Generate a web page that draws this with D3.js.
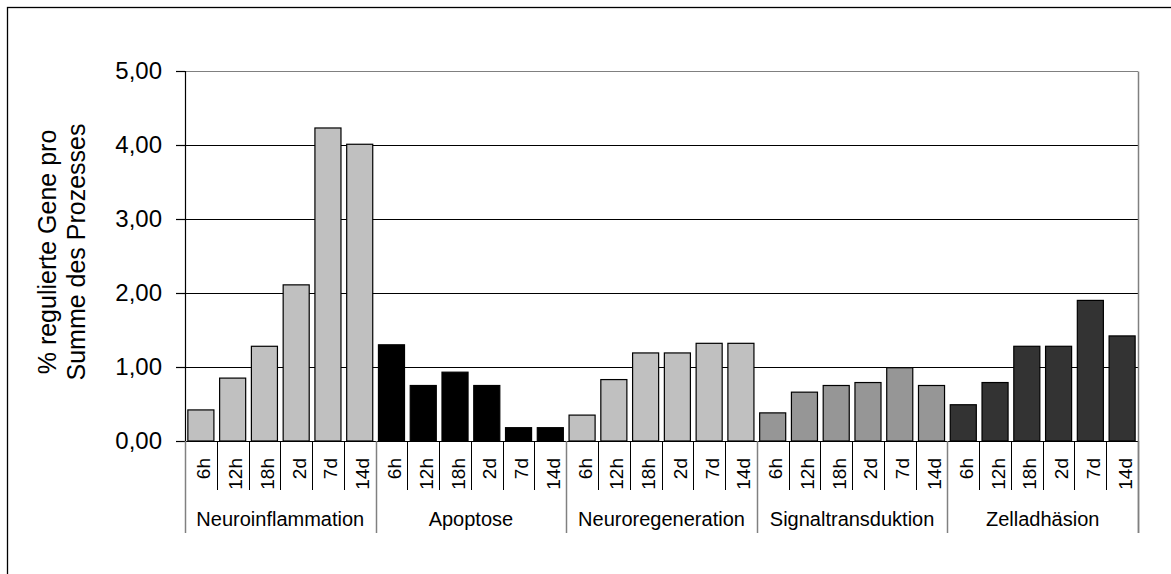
<!DOCTYPE html>
<html>
<head>
<meta charset="utf-8">
<script src="https://cdn.jsdelivr.net/npm/d3@7"></script>
<style>
  body { margin: 0; background: #fff; }
  text { font-family: "Liberation Sans", Arial, sans-serif; fill: #000; }
</style>
</head>
<body>
<svg id="chart" width="1171" height="574"></svg>
<script>
const groups = ["Neuroinflammation", "Apoptose", "Neuroregeneration", "Signaltransduktion", "Zelladhäsion"];
const times = ["6h", "12h", "18h", "2d", "7d", "14d"];

const neuroinflammation = [0.42, 0.85, 1.28, 2.11, 4.23, 4.01];
const apoptose = [1.30, 0.75, 0.93, 0.75, 0.18, 0.18];
const neuroregeneration = [0.35, 0.83, 1.19, 1.19, 1.32, 1.32];
const signaltransduktion = [0.38, 0.66, 0.75, 0.79, 0.99, 0.75];
const zelladhaesion = [0.49, 0.79, 1.28, 1.28, 1.90, 1.42];

const groupColors = ["#c0c0c0", "#000000", "#c0c0c0", "#969696", "#333333"];
const yTicks = [0, 1, 2, 3, 4, 5];

const series = [neuroinflammation, apoptose, neuroregeneration, signaltransduktion, zelladhaesion];

const data = [];
groups.forEach((g, gi) => {
  times.forEach((t, ti) => {
    data.push({ key: g + "|" + t, group: g, gi: gi, time: t, value: series[gi][ti] });
  });
});

const svg = d3.select("#chart"),
  margin = { top: 71, right: 33, bottom: 133, left: 185 },
  width = +svg.attr("width") - margin.left - margin.right,
  height = +svg.attr("height") - margin.top - margin.bottom;

// outer chart border (runs off the right and bottom of the picture)
svg.append("rect")
  .attr("x", 7.5).attr("y", 7.5)
  .attr("width", 1300).attr("height", 700)
  .attr("fill", "none").attr("stroke", "#000").attr("stroke-width", 1.3);

const g = svg.append("g")
  .attr("transform", `translate(${margin.left},${margin.top})`);

const x = d3.scaleBand()
  .domain(data.map(d => d.key))
  .range([0, width])
  .paddingInner(0.18)
  .paddingOuter(0.09);

const y = d3.scaleLinear()
  .domain([0, 5])
  .range([height, 0]);

// gridlines
g.append("g")
  .attr("class", "grid")
  .selectAll("line")
  .data(yTicks.filter(d => d > 0))
  .join("line")
  .attr("x1", 0).attr("x2", width)
  .attr("y1", d => Math.round(y(d)) + 0.5).attr("y2", d => Math.round(y(d)) + 0.5)
  .attr("stroke", d => d === 5 ? "#808080" : "#000")
  .attr("stroke-width", 1.2);

// right border of plot area
g.append("line")
  .attr("x1", width + 0.5).attr("x2", width + 0.5)
  .attr("y1", Math.round(y(5)) + 0.5).attr("y2", height + 92)
  .attr("stroke", "#808080").attr("stroke-width", 1.5);

// bars
g.append("g")
  .selectAll("rect")
  .data(data)
  .join("rect")
  .attr("x", d => x(d.key))
  .attr("y", d => y(d.value))
  .attr("width", x.bandwidth())
  .attr("height", d => y(0) - y(d.value))
  .attr("fill", d => groupColors[d.gi])
  .attr("stroke", "#000")
  .attr("stroke-width", 1.2);

// y axis
const yAxis = g.append("g")
  .call(d3.axisLeft(y)
    .tickValues(yTicks)
    .tickSize(9)
    .tickPadding(14)
    .tickFormat(d => d3.format(".2f")(d).replace(".", ",")));
yAxis.select(".domain").attr("stroke", "#000").attr("stroke-width", 1.2);
yAxis.selectAll(".tick line").attr("stroke", "#000").attr("stroke-width", 1.2);
yAxis.selectAll("text")
  .attr("font-size", 24)
  .attr("font-family", "Liberation Sans, Arial, sans-serif");

// category axis baseline
g.append("line")
  .attr("x1", -9).attr("x2", width)
  .attr("y1", height + 0.5).attr("y2", height + 0.5)
  .attr("stroke", "#000").attr("stroke-width", 1.2);

// time tick separators
const step = x.step();
const slotEdges = d3.range(data.length + 1);
g.append("g")
  .selectAll("line")
  .data(slotEdges.filter(i => i % times.length !== 0))
  .join("line")
  .attr("x1", i => Math.round(i * step) + 0.5)
  .attr("x2", i => Math.round(i * step) + 0.5)
  .attr("y1", height).attr("y2", height + 49)
  .attr("stroke", "#000").attr("stroke-width", 1);

// group separators
g.append("g")
  .selectAll("line")
  .data(d3.range(groups.length + 1))
  .join("line")
  .attr("x1", i => Math.round(i * times.length * step) + 0.5)
  .attr("x2", i => Math.round(i * times.length * step) + 0.5)
  .attr("y1", height).attr("y2", height + 92)
  .attr("stroke", "#808080").attr("stroke-width", 1.5);

// time labels (rotated)
g.append("g")
  .selectAll("text")
  .data(data)
  .join("text")
  .attr("transform", d => `translate(${x(d.key) + x.bandwidth() / 2},${height + 17}) rotate(-90)`)
  .attr("text-anchor", "end")
  .attr("dy", "0.5em")
  .attr("font-size", 19)
  .text(d => d.time);

// group labels
g.append("g")
  .selectAll("text")
  .data(groups)
  .join("text")
  .attr("x", (d, i) => (i + 0.5) * times.length * step)
  .attr("y", height + 85)
  .attr("text-anchor", "middle")
  .attr("font-size", 20)
  .text(d => d);

// y title
const yTitle = svg.append("text")
  .attr("transform", "translate(56,252) rotate(-90)")
  .attr("text-anchor", "middle")
  .attr("font-size", 25);
yTitle.append("tspan").attr("x", 0).attr("dy", 0).text("% regulierte Gene pro");
yTitle.append("tspan").attr("x", 0).attr("dy", 29).text("Summe des Prozesses");
</script>
</body>
</html>
